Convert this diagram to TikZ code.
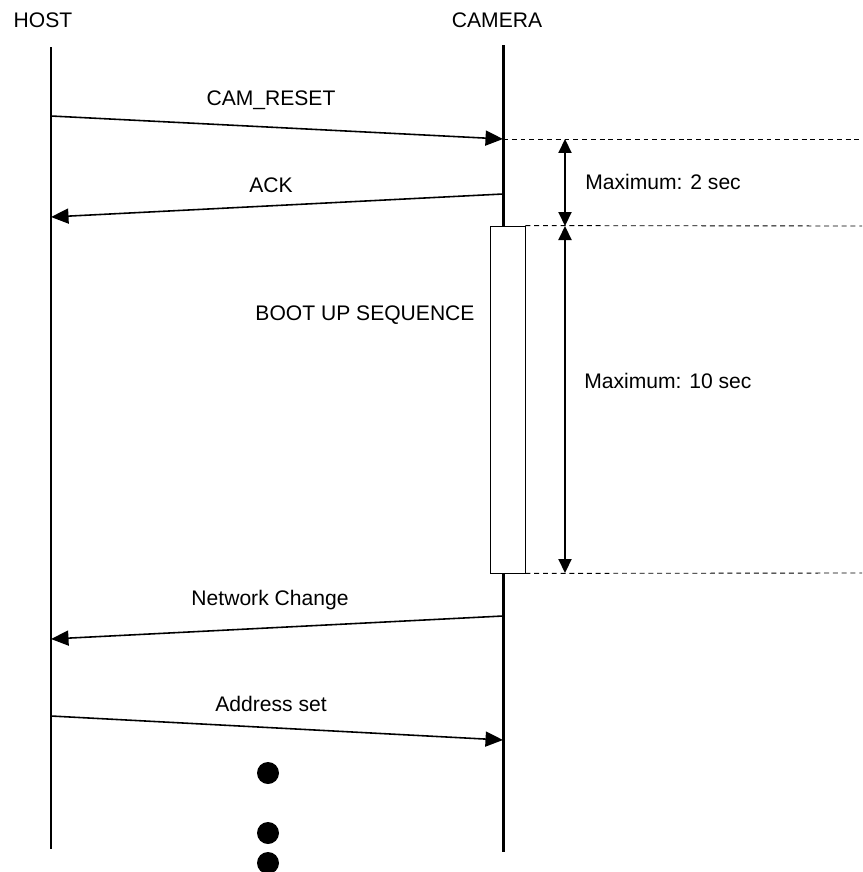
\documentclass[tikz,border=0pt]{standalone}
\usepackage{fontspec}
\setmainfont{Liberation Sans}
\usetikzlibrary{
    arrows.meta,
    positioning,
    calc
}

\begin{document}
\begin{tikzpicture}[x=0.02cm, y=-0.02cm,
        lifeline/.style={line width=1.7pt},
        msg/.style={-{Triangle[length=0.35cm, width=0.3cm]}, line width=0.9pt},
        txt/.style={font=\fontsize{12}{14}\selectfont, inner sep=0pt},
        guide/.style={line width=0.5pt, dash pattern=on 2.8pt off 2.2pt},
        span/.style={{Triangle[length=0.28cm, width=0.26cm]}-{Triangle[length=0.28cm, width=0.26cm]}, line width=1.2pt},
        dot/.style={circle, fill=black, inner sep=0pt, minimum size=0.44cm}]
                \useasboundingbox (0, 0) rectangle (862, 872);
                \clip (0, 0) rectangle (862, 872);

                % lifelines
                \node[txt] (host) at (43, 20) {HOST};
                \node[txt] (cam) at (497, 20) {CAMERA};
                \coordinate (hosttop) at (51, 47);
                \coordinate (hostbot) at (51, 849);
                \coordinate (camtop) at (503, 45);
                \coordinate (cambot) at (503, 852);
                \draw[lifeline] (hosttop) -- (hostbot);
                \draw[lifeline] (camtop) -- (cambot);

                % messages
                \coordinate (h1) at (51, 116);
                \coordinate (c1) at (503, 139);
                \coordinate (c2) at (503, 194);
                \coordinate (h2) at (51, 217);
                \coordinate (c3) at (503, 616);
                \coordinate (h3) at (51, 639);
                \coordinate (h4) at (51, 716);
                \coordinate (c4) at (503, 740);
                \draw[msg] (h1) -- (c1);
                \draw[msg] (c2) -- (h2);
                \draw[msg] (c3) -- (h3);
                \draw[msg] (h4) -- (c4);
                \node[txt] (reset) at (271, 100) {CAM\_RESET};
                \node[txt] (ack) at (271, 185) {ACK};
                \node[txt] (netchg) at (270, 600) {Network Change};
                \node[txt] (addr) at (271, 704) {Address set};

                % boot up
                \node[draw, fill=white, line width=0.5pt, minimum width=0.7cm, minimum height=6.94cm, inner sep=0pt] (boot) at (507.5, 399.5) {};
                \node[txt] (bootlbl) at (365, 315) {BOOT UP SEQUENCE};

                % timing
                \coordinate (g1) at (862, 139);
                \coordinate (g2) at (862, 226);
                \coordinate (g3) at (862, 573);
                \draw[guide] (c1) -- (g1);
                \draw[guide] (boot.north east) -- (g2);
                \draw[guide] (boot.south east) -- (g3);
                \coordinate (s1) at (565, 139);
                \coordinate (s2) at (565, 226);
                \coordinate (s3) at (565, 573);
                \draw[span] (s1) -- (s2);
                \draw[span] (s2) -- (s3);
                \node[txt, anchor=west] (max2) at (585, 182) {Maximum: 2 sec};
                \node[txt, anchor=west] (max10) at (584, 381) {Maximum: 10 sec};

                % more to come
                \foreach \y [count=\i] in {773, 833, 863}{
                    \node[dot] (dot\i) at (268, \y) {};
                }

            \end{tikzpicture}
\end{document}
